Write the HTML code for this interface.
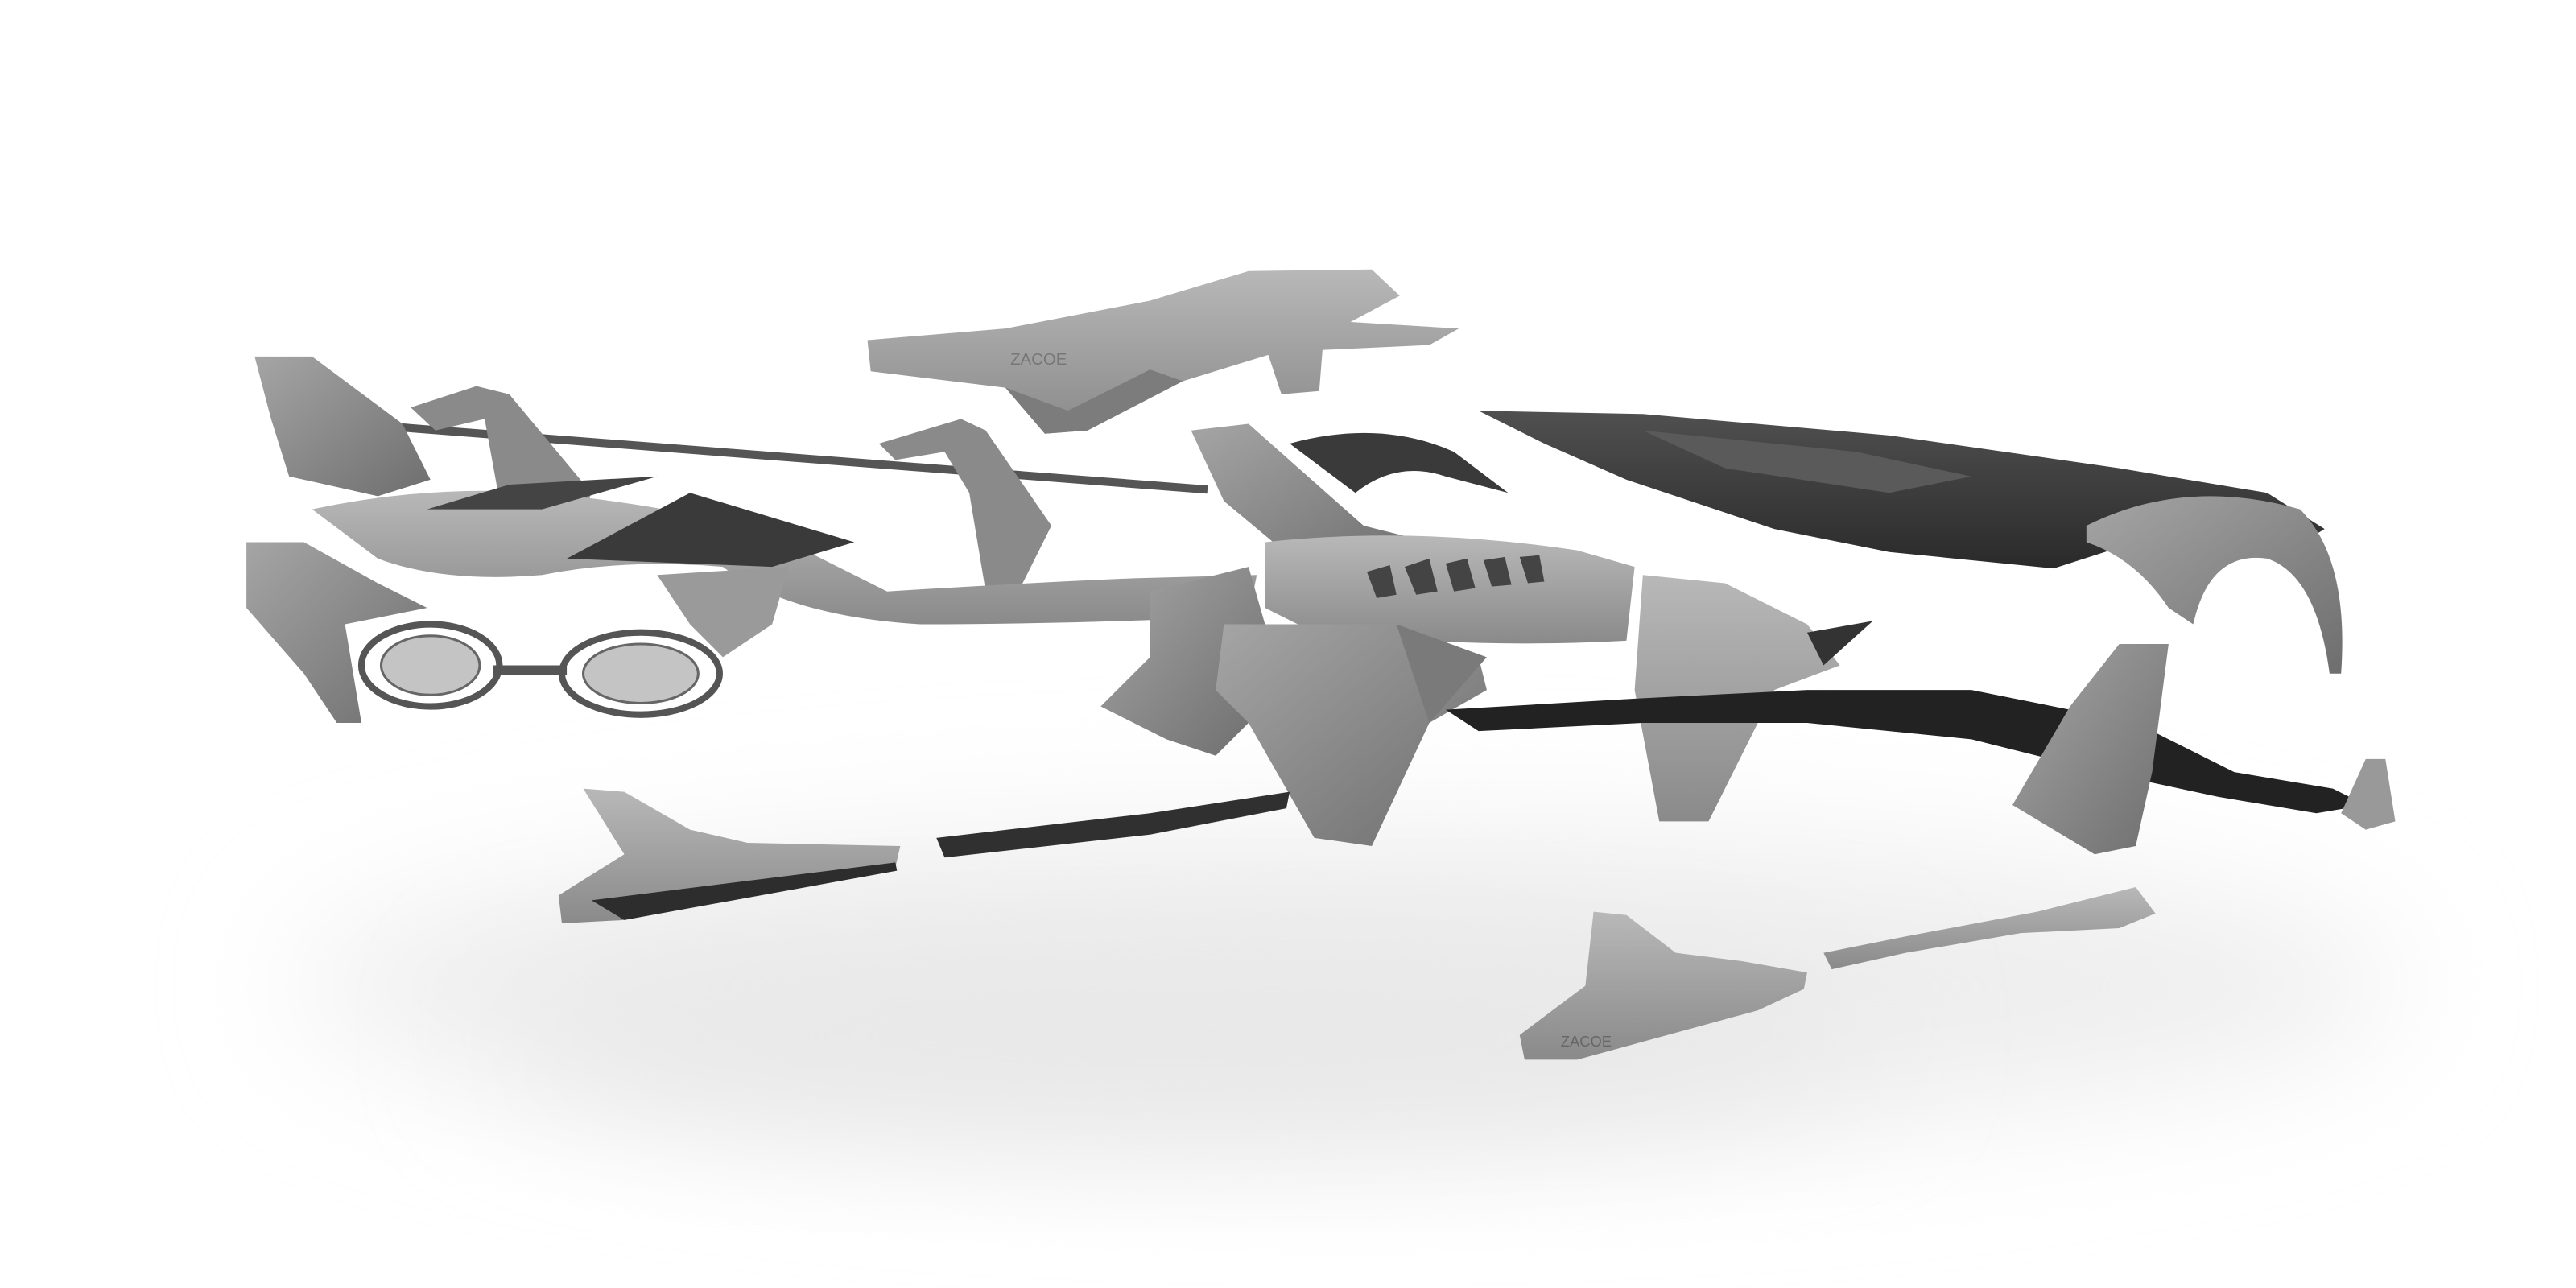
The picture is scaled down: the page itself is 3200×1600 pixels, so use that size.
<!DOCTYPE html>
<html><head><meta charset="utf-8"><style>
html,body{margin:0;padding:0;background:#fff;width:3200px;height:1600px;overflow:hidden}
svg{display:block}
text{font-family:"Liberation Sans",sans-serif}
</style></head><body>
<svg width="3200" height="1600" viewBox="0 0 1568 784" xmlns="http://www.w3.org/2000/svg">
<defs>
<filter id="blur" x="-20%" y="-50%" width="140%" height="200%"><feGaussianBlur stdDeviation="40"/></filter>
<linearGradient id="g1" x1="0" y1="0" x2="0" y2="1"><stop offset="0" stop-color="#b8b8b8"/><stop offset="1" stop-color="#8a8a8a"/></linearGradient>
<linearGradient id="g2" x1="0" y1="0" x2="1" y2="1"><stop offset="0" stop-color="#a5a5a5"/><stop offset="1" stop-color="#6e6e6e"/></linearGradient>
<linearGradient id="dk" x1="0" y1="0" x2="0" y2="1"><stop offset="0" stop-color="#505050"/><stop offset="1" stop-color="#2a2a2a"/></linearGradient>
</defs>
<rect width="1568" height="784" fill="#fff"/>
<ellipse cx="820" cy="600" rx="640" ry="95" fill="#eeeeee" filter="url(#blur)"/>
<ellipse cx="720" cy="630" rx="420" ry="60" fill="#e8e8e8" filter="url(#blur)"/>

<polygon points="528,207 612,200 700,183 760,165 835,164 852,180 822,196 888,200 870,210 805,213 803,238 780,240 772,216 720,232 662,262 636,264 612,236 530,226" fill="url(#g1)"/>
<polygon points="612,236 636,264 662,262 720,232 700,225 650,250" fill="#7c7c7c"/>
<text x="615" y="222" font-size="10" fill="#777">ZACOE</text>

<polygon points="900,250 1000,252 1150,265 1290,285 1380,300 1415,322 1392,336 1300,330 1250,346 1150,336 1080,322 990,292 940,270" fill="url(#dk)"/>
<polygon points="1000,262 1130,275 1200,290 1150,300 1050,285" fill="#5a5a5a"/>
<path d="M1270,320 Q1330,290 1400,310 Q1430,340 1425,410 L1418,410 Q1410,350 1380,340 Q1345,335 1335,380 L1320,370 Q1300,340 1270,330 Z" fill="url(#g2)"/>

<line x1="190" y1="256" x2="735" y2="298" stroke="#555" stroke-width="5"/>
<polygon points="155,217 190,217 245,258 262,292 230,302 176,290 165,255" fill="url(#g2)"/>
<polygon points="250,248 290,235 310,240 360,300 345,340 320,345 305,310 295,255 265,262" fill="#8a8a8a"/>
<polygon points="535,270 585,255 600,262 640,320 620,360 600,360 590,300 575,275 545,280" fill="#8a8a8a"/>
<path d="M190,310 Q260,295 330,300 Q430,310 480,330 L540,360 Q620,355 690,352 L765,350 L760,375 Q650,380 560,380 Q480,375 440,345 Q380,340 330,350 Q270,355 230,340 Z" fill="url(#g1)"/>
<polygon points="345,340 420,300 520,330 470,345" fill="#3a3a3a"/>
<polygon points="260,310 310,295 400,290 330,310" fill="#444"/>
<polygon points="150,330 185,330 230,355 260,370 210,380 220,440 205,440 185,410 150,370" fill="url(#g2)"/>
<polygon points="400,350 480,345 470,380 440,400 420,380" fill="#9a9a9a"/>
<g fill="none" stroke="#555" stroke-width="4">
<ellipse cx="262" cy="405" rx="42" ry="25"/>
<ellipse cx="390" cy="410" rx="48" ry="25"/>
</g>
<g fill="#c4c4c4" stroke="#666" stroke-width="1.5">
<ellipse cx="262" cy="405" rx="30" ry="18"/><ellipse cx="390" cy="410" rx="35" ry="18"/>
</g>
<line x1="300" y1="408" x2="345" y2="408" stroke="#555" stroke-width="6"/>

<polygon points="725,262 760,258 830,320 870,330 810,345 775,330 745,305" fill="url(#g2)"/>
<path d="M785,270 Q840,255 885,275 L918,300 L880,290 Q850,280 825,300 Z" fill="#3a3a3a"/>
<path d="M770,330 Q860,320 960,335 L995,345 L990,390 Q900,395 800,385 L770,370 Z" fill="url(#g1)"/>
<g fill="#444"><polygon points="855,345 870,340 875,360 862,362"/><polygon points="880,343 893,340 898,358 885,360"/><polygon points="903,341 916,339 920,356 908,357"/><polygon points="925,339 937,338 940,354 930,355"/><polygon points="832,348 846,344 850,362 838,364"/></g>
<polygon points="1000,350 1050,355 1100,380 1120,405 1080,420 1040,500 1010,500 995,420" fill="url(#g1)"/>
<polygon points="1100,385 1140,378 1110,405" fill="#333"/>
<polygon points="700,360 760,345 770,380 770,430 740,460 710,450 670,430 700,400" fill="url(#g2)"/>
<polygon points="745,380 850,380 900,400 905,420 870,440 835,515 800,510 760,440 740,420" fill="url(#g2)"/>
<polygon points="850,380 905,400 870,440" fill="#7a7a7a"/>
<polygon points="880,432 1000,425 1100,420 1200,420 1300,440 1360,470 1420,480 1440,490 1410,495 1350,485 1280,470 1200,450 1100,440 1000,440 900,445" fill="#222"/>
<polygon points="1290,392 1320,392 1310,470 1300,515 1275,520 1225,490 1260,430" fill="url(#g2)"/>
<polygon points="1440,462 1452,462 1458,500 1440,505 1425,495" fill="#999"/>

<polygon points="355,480 380,482 420,505 455,513 548,515 545,528 380,560 342,562 340,545 380,520" fill="url(#g1)"/>
<polygon points="360,548 545,525 546,530 380,560" fill="#2d2d2d"/>
<polygon points="570,510 700,495 785,482 783,492 700,508 575,522" fill="#303030"/>
<polygon points="970,555 990,557 1020,580 1060,585 1100,592 1098,602 1070,615 960,645 928,645 925,630 965,600" fill="url(#g1)"/>
<text x="950" y="637" font-size="9" fill="#666">ZACOE</text>
<polygon points="1110,580 1160,570 1240,555 1300,540 1312,556 1290,565 1230,568 1160,580 1115,590" fill="url(#g1)"/>
</svg>
</body></html>
